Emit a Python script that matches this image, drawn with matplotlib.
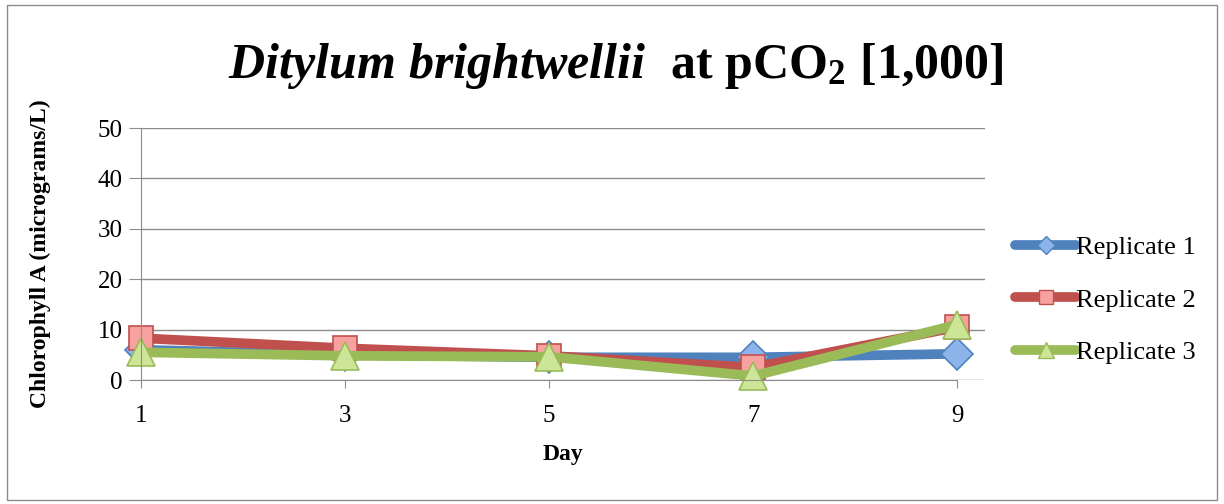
import matplotlib.pyplot as plt
from matplotlib.patches import Rectangle
from matplotlib.lines import Line2D

# data
days = [1, 3, 5, 7, 9]
rep1 = [6.0, 5.0, 4.5, 4.5, 5.2]
rep2 = [8.3, 6.3, 4.8, 2.5, 10.5]
rep3 = [5.5, 4.8, 4.6, 0.8, 11.0]
labels = ['Replicate 1', 'Replicate 2', 'Replicate 3']

plt.rcParams['font.family'] = 'Liberation Serif'
plt.rcParams['mathtext.fontset'] = 'custom'
plt.rcParams['mathtext.rm'] = 'Liberation Serif:bold'
plt.rcParams['mathtext.bf'] = 'Liberation Serif:bold'
plt.rcParams['mathtext.it'] = 'Liberation Serif:italic:bold'

fig = plt.figure(figsize=(12.24, 5.04), dpi=100)
fig.patches.append(Rectangle((0.006, 0.008), 0.988, 0.982, transform=fig.transFigure,
                             fill=False, edgecolor='#8c8c8c', linewidth=1.0))
ax = fig.add_axes([0.1152, 0.246, 0.6895, 0.50])

styles = [
    ('#4F81BD', 'D', '#8CB4EA', '#4F81BD', 16),
    ('#C0504D', 's', '#F7A1A0', '#C0504D', 17),
    ('#9BBB59', '^', '#CDE597', '#9BBB59', 20),
]
handles = []
for ys, lab, (c, m, fc, ec, ms) in zip([rep1, rep2, rep3], labels, styles):
    ax.plot(days, ys, color=c, linewidth=7, marker=m, markersize=ms,
            markerfacecolor=fc, markeredgecolor=ec, markeredgewidth=1.2,
            solid_capstyle='round', solid_joinstyle='round', clip_on=False)
    handles.append(Line2D([], [], color=c, linewidth=7, marker=m, markersize=ms * 0.6,
                          markerfacecolor=fc, markeredgecolor=ec, markeredgewidth=1.0,
                          solid_capstyle='round', label=lab))

ax.set_xlim(1, 9.27)
ax.set_ylim(0, 50)
ax.set_xticks(days)
ax.set_yticks([0, 10, 20, 30, 40, 50])
ax.yaxis.grid(True, color='#8c8c8c', linewidth=1.0)
ax.set_axisbelow(True)
for s in ['top', 'right']:
    ax.spines[s].set_visible(False)
ax.spines['left'].set_color('#8c8c8c')
ax.spines['bottom'].set_color('#8c8c8c')
ax.spines['bottom'].set_bounds(1, 9)
ax.tick_params(axis='y', length=9, color='#8c8c8c', labelsize=18, pad=4)
ax.tick_params(axis='x', length=6, color='#8c8c8c', labelsize=18, pad=12)

ax.set_xlabel('Day', fontsize=17, fontweight='bold', labelpad=12)
ax.set_ylabel('Chlorophyll A (micrograms/L)', fontsize=17, fontweight='bold', labelpad=34)

fig.text(0.503, 0.87, r'$\mathit{Ditylum\ brightwellii}\ \ \mathrm{at\ pCO_2\ [1{,}000]}$',
         ha='center', va='center', fontsize=36)

ax.legend(handles=handles, loc='center left', bbox_to_anchor=(0.821, 0.405),
          bbox_transform=fig.transFigure, frameon=False, fontsize=19,
          handlelength=2.3, handletextpad=0.0, labelspacing=1.1, borderaxespad=0)

fig.savefig('out.png', dpi=100)
